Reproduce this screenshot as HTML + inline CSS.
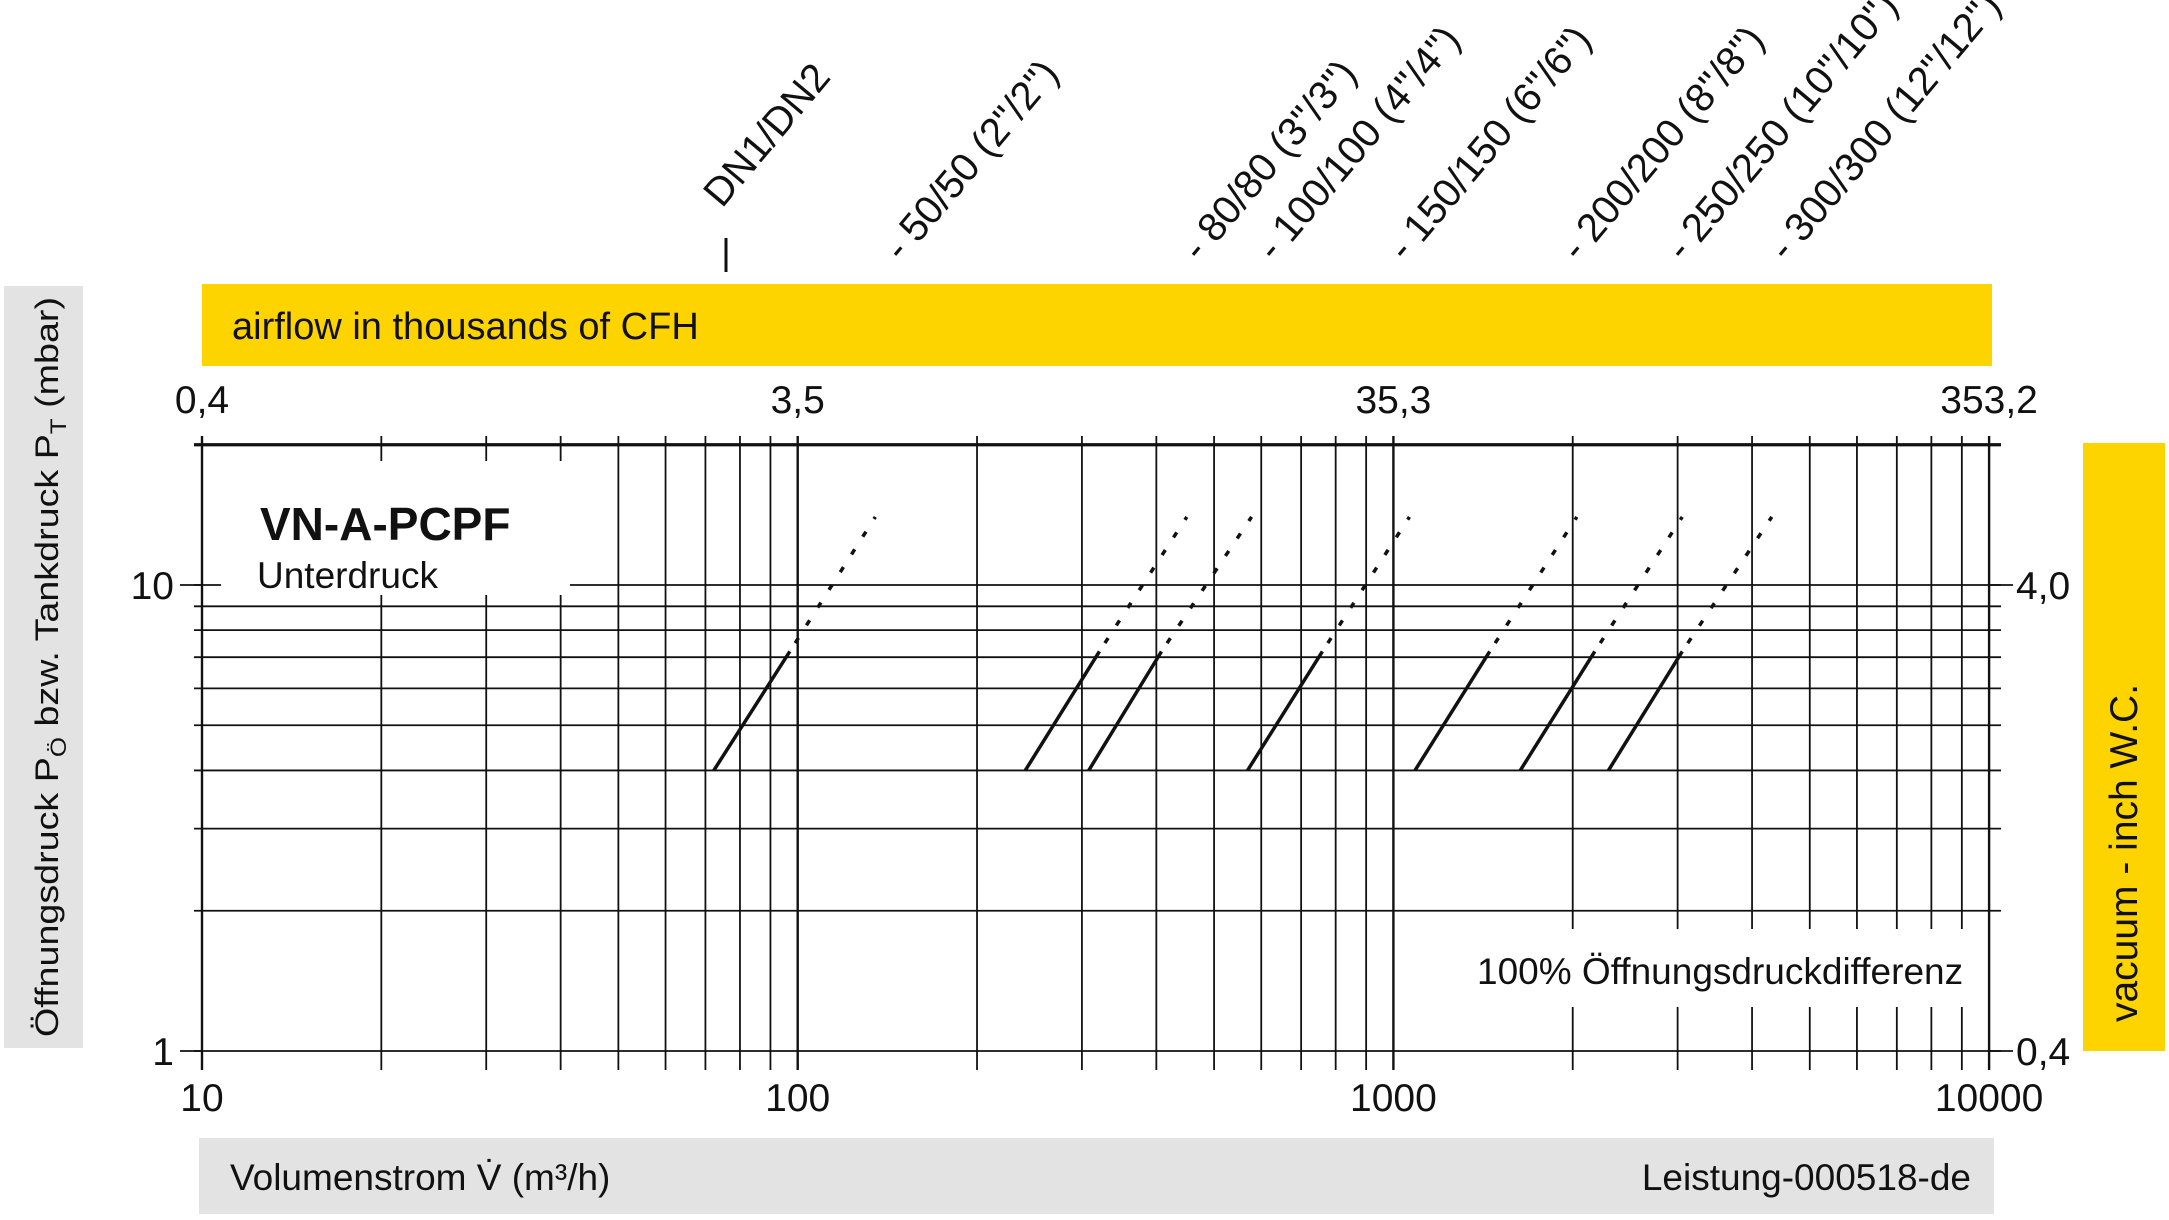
<!DOCTYPE html>
<html><head><meta charset="utf-8"><style>
html,body{margin:0;padding:0;background:#fff;}
svg{display:block;font-family:"Liberation Sans",sans-serif;}
</style></head><body>
<svg id="chart" width="2169" height="1220" viewBox="0 0 2169 1220" xmlns="http://www.w3.org/2000/svg">
<rect x="4" y="286" width="79" height="762" fill="#e3e3e3"/>
<text transform="translate(58,667) rotate(-90)" text-anchor="middle" font-size="32" textLength="740" lengthAdjust="spacingAndGlyphs" fill="#111">Öffnungsdruck P<tspan font-size="22" dy="8">Ö</tspan><tspan dy="-8"> bzw. Tankdruck P</tspan><tspan font-size="22" dy="8">T</tspan><tspan dy="-8"> (mbar)</tspan></text>
<rect x="202" y="284" width="1790" height="82" fill="#fdd300"/>
<text x="232" y="339" font-size="38" fill="#111">airflow in thousands of CFH</text>
<rect x="2083" y="443" width="82" height="608" fill="#fdd300"/>
<text transform="translate(2137,853) rotate(-90)" text-anchor="middle" font-size="39" fill="#111">vacuum  - inch W.C.</text>
<rect x="199" y="1138" width="1795" height="76" fill="#e3e3e3"/>
<text x="230" y="1190" font-size="37" fill="#111">Volumenstrom V̇ (m³/h)</text>
<text x="1971" y="1190" text-anchor="end" font-size="37" fill="#111">Leistung-000518-de</text>
<g id="grid"></g>
<g id="marks"></g>
<g id="labels"></g>
<rect x="221" y="461" width="349" height="134" fill="#fff"/>
<text x="260" y="540" font-size="46" font-weight="bold" fill="#111">VN-A-PCPF</text>
<text x="257" y="588" font-size="37" fill="#111">Unterdruck</text>
<rect x="1466" y="929" width="514" height="78" fill="#fff"/>
<text x="1477" y="984" font-size="37" fill="#111">100% Öffnungsdruckdifferenz</text>
<line x1="726" y1="238" x2="726" y2="272" stroke="#111" stroke-width="3"/>
</svg>
<script>
const sizeLabels = ['DN1/DN2','- 50/50 (2"/2")','- 80/80 (3"/3")','- 100/100 (4"/4")','- 150/150 (6"/6")','- 200/200 (8"/8")','- 250/250 (10"/10")','- 300/300 (12"/12")'];
const sizeNames = ['50','80','100','150','200','250','300'];
const flowAt4 = [72.3, 241, 308, 569, 1087, 1633, 2296];
const flowSolidEnd = [97, 321, 408, 760, 1451, 2178, 3054];
const flowDottedEnd = [135, 450, 578, 1064, 2032, 3054, 4317];
const pressStart = 4;
const pressSolidEnd = 7.2;
const pressDottedEnd = 14;
const xTicks = [10,100,1000,10000];
const xTickLabels = ['10','100','1000','10000'];
const cfhLabels = ['0,4','3,5','35,3','353,2'];
const yTicks = [1,10];
const yTickLabels = ['1','10'];
const inchLabels = ['0,4','4,0'];
const yGrid = [1,2,3,4,5,6,7,8,9,10,20];

const NS='http://www.w3.org/2000/svg';
const X = q => 202 + (Math.log10(q)-1)*595.7;
const Y = p => 1051 - Math.log10(p)*466;
function mk(tag, attrs, parent){const e=document.createElementNS(NS,tag);for(const k in attrs)e.setAttribute(k,attrs[k]);parent.appendChild(e);return e;}
const grid=document.getElementById('grid'), marks=document.getElementById('marks'), labels=document.getElementById('labels');

for(let d=10; d<=10000; d*=10){
  for(let m=1;m<=9;m++){
    const q=d*m; if(q>10000) break;
    const l=mk('line',{x1:X(q),x2:X(q),y1:436,y2:1070,stroke:'#111','stroke-width':(m===1?2.4:1.8)},grid);
    
    
  }
}
yGrid.forEach(p=>{
  const l=mk('line',{x1:194,x2:2001,y1:Y(p),y2:Y(p),stroke:'#111','stroke-width':(p===20?3.2:1.8)},grid);
  
  
});
[1,10].forEach(p=>{
  const l=mk('line',{x1:180,x2:202,y1:Y(p),y2:Y(p),stroke:'#111','stroke-width':1.8},grid);
  
  
  const r=mk('line',{x1:1989,x2:2013,y1:Y(p),y2:Y(p),stroke:'#111','stroke-width':1.8},grid);
  
  
});

for(let i=0;i<flowAt4.length;i++){
  const s=mk('line',{x1:X(flowAt4[i]),y1:Y(pressStart),x2:X(flowSolidEnd[i]),y2:Y(pressSolidEnd),stroke:'#111','stroke-width':3.5},marks);
  
  
  const d=mk('line',{x1:X(flowSolidEnd[i]),y1:Y(pressSolidEnd),x2:X(flowDottedEnd[i]),y2:Y(pressDottedEnd),stroke:'#111','stroke-width':3.5,'stroke-dasharray':'6 15','stroke-dashoffset':'-10'},marks);
  
  
}

xTicks.forEach((q,i)=>{
  const t=mk('text',{x:X(q),y:1111,'text-anchor':'middle','font-size':39,fill:'#111'},labels);
  t.textContent=xTickLabels[i];
  
  
  const c=mk('text',{x:X(q),y:413,'text-anchor':'middle','font-size':39,fill:'#111'},labels);
  c.textContent=cfhLabels[i];
  
  
});
yTicks.forEach((p,i)=>{
  const t=mk('text',{x:174,y:Y(p)+14,'text-anchor':'end','font-size':39,fill:'#111'},labels);
  t.textContent=yTickLabels[i];
  
  
  const r=mk('text',{x:2016,y:Y(p)+14,'font-size':39,fill:'#111'},labels);
  r.textContent=inchLabels[i];
  
  
});
const sizeLabelX=[722,902,1200,1275,1406,1579,1684,1787];
sizeLabels.forEach((s,i)=>{
  const y = i===0?209:263;
  const t=mk('text',{transform:'translate('+sizeLabelX[i]+','+y+') rotate(-50)','font-size':40,fill:'#111'},labels);
  t.textContent=s;
  
  
});
</script>
</body></html>
